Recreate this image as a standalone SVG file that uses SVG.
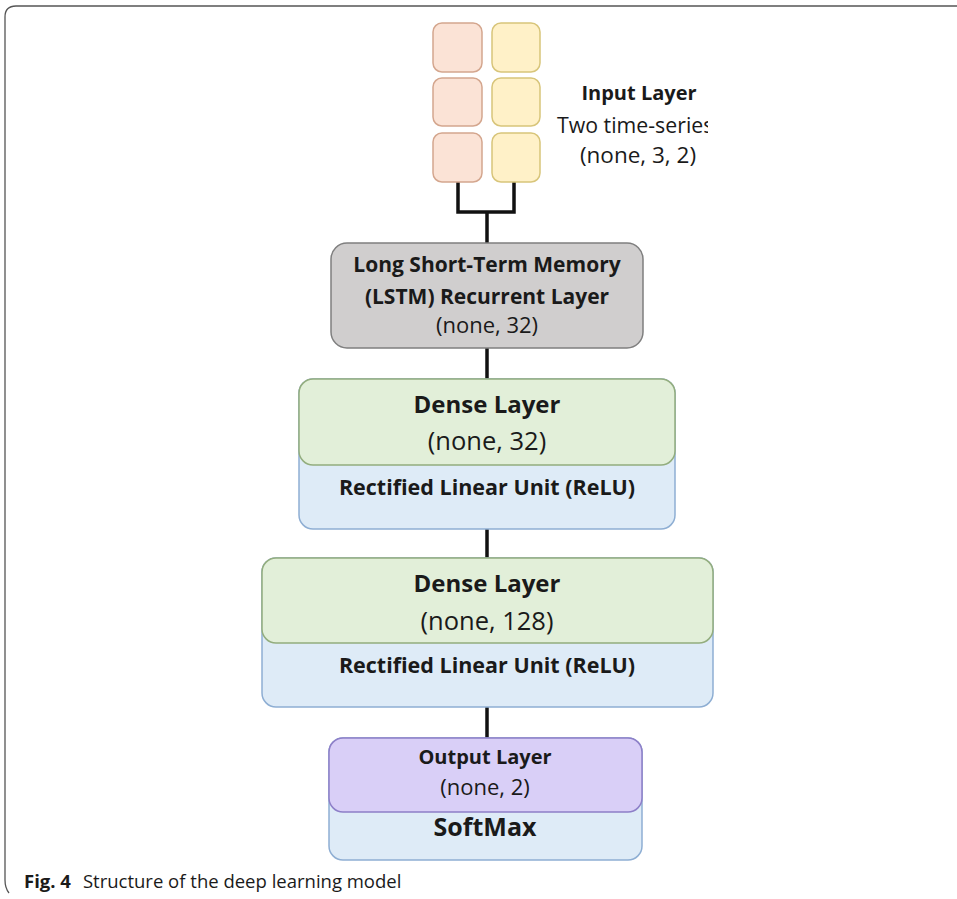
<svg xmlns="http://www.w3.org/2000/svg" width="957" height="899" viewBox="0 0 957 899">
<style>
.t{font-family:"Open Sans","Noto Sans","Liberation Sans",sans-serif;fill:#1a1a1a;text-anchor:middle}
.b{font-weight:bold}
.con{stroke:#111;stroke-width:3.5;fill:none}
.sqo{fill:#fbe3d6;stroke:#d4a68e;stroke-width:1.5}
.sqy{fill:#fff1c8;stroke:#d8c57a;stroke-width:1.5}
.green{fill:#e2efd9;stroke:#93ad7e;stroke-width:1.5}
.blue{fill:#deebf7;stroke:#8eaed3;stroke-width:1.5}
.purple{fill:#d9cff7;stroke:#8d7fc8;stroke-width:1.5}
.gray{fill:#d0cece;stroke:#7f7f7f;stroke-width:1.5}
.cap{font-family:"Open Sans","Noto Sans","Liberation Sans",sans-serif;fill:#1a1a1a;font-size:18.5px}
</style>
<defs>
<clipPath id="clipIn"><rect x="540" y="100" width="168" height="80"/></clipPath>
</defs>
<path d="M957 6 H16 Q5 6 5 17 V880 Q5 888 9 893" fill="none" stroke="#555" stroke-width="1.3"/>
<g id="connectors">
<path class="con" d="M458 182 V212 H514 V182"/>
<path class="con" d="M487 212 V243"/>
<path class="con" d="M487 348 V379"/>
<path class="con" d="M487 529 V558"/>
<path class="con" d="M487 707 V738"/>
</g>
<g id="input">
<rect class="sqo" x="433" y="23" width="49" height="49" rx="9"/>
<rect class="sqo" x="433" y="78" width="49" height="48" rx="9"/>
<rect class="sqo" x="433" y="133" width="49" height="49" rx="9"/>
<rect class="sqy" x="492" y="23" width="48" height="49" rx="9"/>
<rect class="sqy" x="492" y="78" width="48" height="48" rx="9"/>
<rect class="sqy" x="492" y="133" width="48" height="49" rx="9"/>
<text class="t b" x="639" y="100" font-size="20">Input Layer</text>
<g clip-path="url(#clipIn)"><text class="t" x="557" y="133" font-size="21.3" style="text-anchor:start">Two time-series</text></g>
<text class="t" x="638" y="163" font-size="22.5">(none, 3, 2)</text>
</g>
<g id="lstm">
<rect class="gray" x="331" y="243" width="312" height="105" rx="16"/>
<text class="t b" x="487" y="272" font-size="21">Long Short-Term  Memory</text>
<text class="t b" x="487" y="304" font-size="21">(LSTM) Recurrent Layer</text>
<text class="t" x="487" y="333" font-size="22">(none, 32)</text>
</g>
<g id="dense1">
<rect class="blue" x="299" y="379" width="376" height="150" rx="14"/>
<rect class="green" x="299" y="379" width="376" height="86" rx="14"/>
<text class="t b" x="487" y="413" font-size="24">Dense Layer</text>
<text class="t" x="487" y="450" font-size="25.5">(none, 32)</text>
<text class="t b" x="487" y="495" font-size="21.5">Rectified Linear Unit (ReLU)</text>
</g>
<g id="dense2">
<rect class="blue" x="262" y="558" width="451" height="149" rx="14"/>
<rect class="green" x="262" y="558" width="451" height="85" rx="14"/>
<text class="t b" x="487" y="592" font-size="24">Dense Layer</text>
<text class="t" x="487" y="630" font-size="25.5">(none, 128)</text>
<text class="t b" x="487" y="673" font-size="21.5">Rectified Linear Unit (ReLU)</text>
</g>
<g id="output">
<rect class="blue" x="329" y="738" width="313" height="122" rx="14"/>
<rect class="purple" x="329" y="738" width="313" height="74" rx="14"/>
<text class="t b" x="485" y="764" font-size="20">Output Layer</text>
<text class="t" x="485" y="795" font-size="22">(none, 2)</text>
<text class="t b" x="485" y="836" font-size="25">SoftMax</text>
</g>
<text class="cap" x="24" y="888"><tspan font-weight="bold">Fig. 4</tspan><tspan dx="12">Structure of the deep learning model</tspan></text>
</svg>
